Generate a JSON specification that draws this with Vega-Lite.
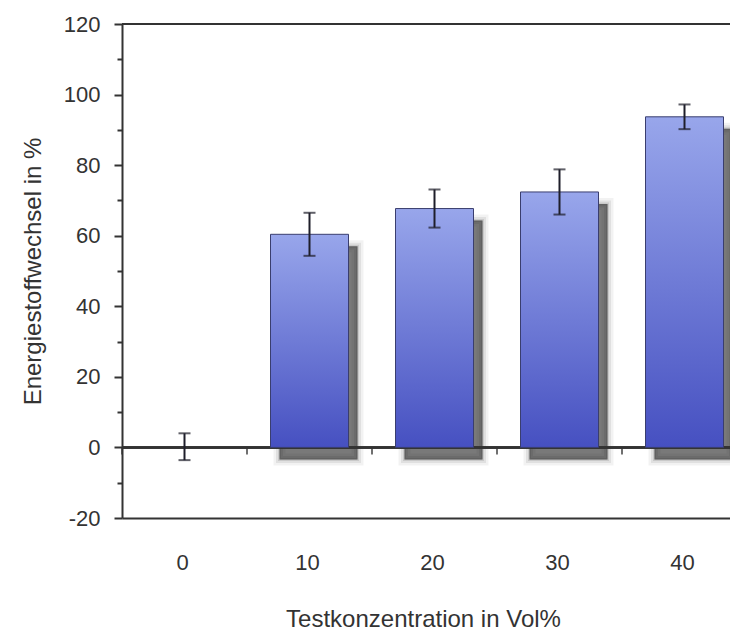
{
  "$schema": "https://vega.github.io/schema/vega-lite/v6.json",
  "autosize": {"type": "none"},
  "padding": {"left": 122, "top": 24, "right": 0, "bottom": 112},
  "width": 608,
  "height": 494,
  "background": "white",
  "config": {"view": {"stroke": null}, "font": "Liberation Sans"},
  "data": {"values": [
    {"konz": 0, "value": 0.2, "err": 3.8},
    {"konz": 10, "value": 60.4, "err": 6.1},
    {"konz": 20, "value": 67.7, "err": 5.4},
    {"konz": 30, "value": 72.4, "err": 6.4},
    {"konz": 40, "value": 93.7, "err": 3.5}
  ]},
  "resolve": {"axis": {"y": "independent"}},
  "layer": [
    {
      "transform": [{"filter": "datum.value > 1"}],
      "mark": {"type": "bar", "fill": "#000000", "fillOpacity": 0.1, "stroke": "#000000", "strokeOpacity": 0.05, "strokeWidth": 12, "xOffset": 9, "yOffset": 12, "y2Offset": 12},
      "encoding": {
        "x": {"field": "konz", "type": "ordinal", "scale": {"range": [0, 625], "paddingInner": 0.376, "paddingOuter": 0.188},
          "axis": {"title": "Testkonzentration in Vol%", "labelAngle": 0, "ticks": false, "tickSize": 0, "domainColor": "#333333", "domainWidth": 2, "labelFontSize": 22, "labelBaseline": "alphabetic", "labelPadding": 51, "labelOffset": -2, "labelColor": "#333333", "titleFontSize": 24, "titleFontWeight": "normal", "titleColor": "#333333", "titleBaseline": "alphabetic", "titleY": 108, "titleX": 301}},
        "y": {"field": "value", "type": "quantitative", "scale": {"domain": [-20, 120], "nice": false, "zero": false},
          "axis": {"orient": "left", "title": "Energiestoffwechsel in %", "values": [-20, 0, 20, 40, 60, 80, 100, 120], "labelExpr": "'' + datum.value", "tickSize": 8, "tickColor": "#333333", "tickWidth": 2, "domainColor": "#333333", "domainWidth": 2, "labelFontSize": 22, "labelPadding": 14, "labelColor": "#333333", "grid": false, "titleFontSize": 24, "titleFontWeight": "normal", "titleColor": "#333333", "titleX": -82, "titleBaseline": "alphabetic"}},
        "y2": {"datum": 0}
      }
    },
    {
      "transform": [{"filter": "datum.value > 1"}],
      "mark": {"type": "bar", "fill": "#000000", "fillOpacity": 0.1, "stroke": "#000000", "strokeOpacity": 0.07, "strokeWidth": 7, "xOffset": 9, "yOffset": 12, "y2Offset": 12},
      "encoding": {
        "x": {"field": "konz", "type": "ordinal"},
        "y": {"field": "value", "type": "quantitative", "axis": null},
        "y2": {"datum": 0}
      }
    },
    {
      "transform": [{"filter": "datum.value > 1"}],
      "mark": {"type": "bar", "fill": "#000000", "fillOpacity": 0.1, "stroke": "#000000", "strokeOpacity": 0.1, "strokeWidth": 3, "xOffset": 9, "yOffset": 12, "y2Offset": 12},
      "encoding": {
        "x": {"field": "konz", "type": "ordinal"},
        "y": {"field": "value", "type": "quantitative", "axis": null},
        "y2": {"datum": 0}
      }
    },
    {
      "transform": [{"filter": "datum.value > 1"}],
      "mark": {"type": "bar", "fill": "#222222", "fillOpacity": 0.42, "xOffset": 9, "yOffset": 12, "y2Offset": 12},
      "encoding": {
        "x": {"field": "konz", "type": "ordinal"},
        "y": {"field": "value", "type": "quantitative", "axis": null},
        "y2": {"datum": 0}
      }
    },
    {
      "mark": {"type": "rule", "color": "#333333", "strokeWidth": 2},
      "encoding": {"y": {"datum": 120, "axis": {"orient": "left", "values": [-10, 10, 30, 50, 70, 90, 110], "tickSize": 5, "tickWidth": 2, "tickColor": "#333333", "labels": false, "domain": false, "title": null, "grid": false}}}
    },
    {
      "mark": {"type": "rule", "color": "#333333", "strokeWidth": 2},
      "encoding": {"y": {"datum": 0, "axis": null}}
    },
    {
      "transform": [{"filter": "datum.value > 1"}],
      "mark": {"type": "bar", "fill": {"gradient": "linear", "x1": 0, "y1": 0, "x2": 0, "y2": 1, "stops": [{"offset": 0, "color": "#98a6eb"}, {"offset": 1, "color": "#4650c1"}]}, "stroke": "#3a3e6e", "strokeWidth": 1},
      "encoding": {
        "x": {"field": "konz", "type": "ordinal"},
        "y": {"field": "value", "type": "quantitative", "axis": null},
        "y2": {"datum": 0}
      }
    },
    {
      "mark": {"type": "tick", "orient": "vertical", "size": 7, "thickness": 2, "color": "#333333", "yOffset": 3.5, "xOffset": -23.5},
      "encoding": {
        "x": {"field": "konz", "type": "ordinal", "bandPosition": 0},
        "y": {"datum": 0, "axis": null}
      }
    },
    {
      "mark": {"type": "errorbar", "color": "#1e1e2a", "ticks": true, "size": 12, "thickness": 2},
      "encoding": {
        "x": {"field": "konz", "type": "ordinal"},
        "y": {"field": "value", "type": "quantitative", "axis": null},
        "yError": {"field": "err"}
      }
    }
  ]
}
